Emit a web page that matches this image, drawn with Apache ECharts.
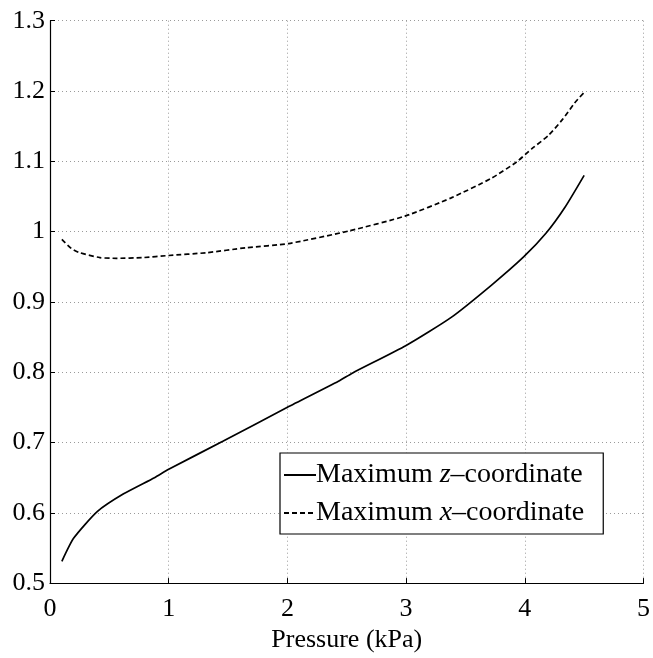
<!DOCTYPE html>
<html>
<head>
<meta charset="utf-8">
<script src="https://cdn.jsdelivr.net/npm/echarts@6/dist/echarts.min.js"></script>
<style>
html,body{margin:0;padding:0;background:#fff;}
#c{width:653px;height:658px;}
</style>
</head>
<body>
<div id="c"></div>
<script>
var pressureZ = [0.10, 0.20, 0.40, 0.62, 0.88, 1.00, 1.46, 2.00, 2.43, 2.55, 3.00, 3.38, 3.72, 3.99, 4.18, 4.34, 4.50];
var maxZ = [0.531, 0.564, 0.602, 0.627, 0.650, 0.662, 0.702, 0.750, 0.787, 0.799, 0.838, 0.878, 0.924, 0.964, 0.998, 1.035, 1.080];
var pressureX = [0.10, 0.18, 0.25, 0.42, 0.56, 0.78, 1.00, 1.32, 1.65, 2.01, 2.52, 2.99, 3.38, 3.72, 3.93, 4.06, 4.20, 4.32, 4.42, 4.50];
var maxX = [0.989, 0.976, 0.970, 0.963, 0.962, 0.963, 0.966, 0.970, 0.977, 0.983, 1.001, 1.022, 1.048, 1.076, 1.099, 1.118, 1.137, 1.160, 1.183, 1.198];
var xTicks = [0, 1, 2, 3, 4, 5];
var yTicks = [0.5, 0.6, 0.7, 0.8, 0.9, 1, 1.1, 1.2, 1.3];
var seriesNames = ['Maximum z\u2013coordinate', 'Maximum x\u2013coordinate'];
var xTitle = 'Pressure (kPa)';

function zip(a, b) { return a.map(function (v, i) { return [v, b[i]]; }); }

var font = '"Liberation Serif", "DejaVu Serif", serif';
var chart = echarts.init(document.getElementById('c'), null, {renderer: 'canvas'});
var gridLine = {show: true, lineStyle: {color: '#9a9a9a', type: [1, 3], width: 1}};
chart.setOption({
  backgroundColor: '#ffffff',
  animation: false,
  grid: {left: 50, right: 8, top: 20.7, bottom: 63, containLabel: false},
  xAxis: {
    type: 'value', min: xTicks[0], max: xTicks[xTicks.length - 1], interval: 1,
    name: xTitle, nameLocation: 'middle', nameGap: 43,
    nameTextStyle: {fontFamily: font, fontSize: 26, color: '#000'},
    axisLine: {show: true, onZero: false, lineStyle: {color: '#000', width: 1.2}},
    axisTick: {show: true, inside: true, length: 5, lineStyle: {color: '#000'}},
    axisLabel: {fontFamily: font, fontSize: 26, color: '#000', margin: 13},
    splitLine: gridLine
  },
  yAxis: {
    type: 'value', min: yTicks[0], max: yTicks[yTicks.length - 1], interval: 0.1,
    axisLine: {show: true, onZero: false, lineStyle: {color: '#000', width: 1.2}},
    axisTick: {show: true, inside: true, length: 5, lineStyle: {color: '#000'}},
    axisLabel: {fontFamily: font, fontSize: 26, color: '#000', margin: 5},
    splitLine: gridLine
  },
  legend: {
    orient: 'vertical', left: 280, top: 453,
    padding: [8, 19, 7, 3],
    itemGap: 10, itemWidth: 32, itemHeight: 14,
    backgroundColor: '#fff', borderColor: '#000', borderWidth: 1.2,
    itemStyle: {opacity: 0},
    data: seriesNames,
    formatter: function (name) {
      var parts = name.split(' ');
      var rest = parts[1];
      return '{n|Maximum }{i|' + rest.charAt(0) + '}{n|' + rest.slice(1) + '}';
    },
    textStyle: {
      fontFamily: font, fontSize: 28, color: '#000', padding: [0, 0, 0, -5],
      rich: {
        n: {fontFamily: font, fontSize: 28, color: '#000'},
        i: {fontFamily: font, fontSize: 28, color: '#000', fontStyle: 'italic'}
      }
    }
  },
  series: [
    {
      name: seriesNames[0], type: 'line', data: zip(pressureZ, maxZ),
      showSymbol: false, symbol: 'none', smooth: 0.2,
      lineStyle: {color: '#000', width: 1.7, type: 'solid'}, itemStyle: {color: '#000'}
    },
    {
      name: seriesNames[1], type: 'line', data: zip(pressureX, maxX),
      showSymbol: false, symbol: 'none', smooth: 0.2,
      lineStyle: {color: '#000', width: 1.7, type: [5, 3]}, itemStyle: {color: '#000'}
    }
  ]
});
</script>
</body>
</html>
